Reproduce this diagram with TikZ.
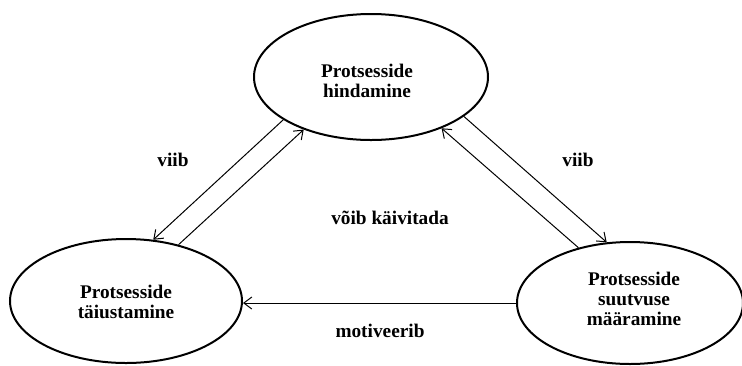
\documentclass[tikz,border=0pt]{standalone}
\usepackage{fontspec}
\setmainfont{Liberation Serif}
\usetikzlibrary{shapes.geometric,arrows.meta}
\begin{document}
\begin{tikzpicture}[x=1pt,y=-1pt,
  proc/.style={ellipse,draw,line width=2pt,inner sep=0pt},
  proctext/.style={inner sep=0pt,align=center,
    font=\fontsize{19.3}{20}\selectfont\bfseries},
  lbl/.style={inner sep=0pt,font=\fontsize{19.3}{20}\selectfont\bfseries},
  link/.style={line width=1pt,-{Straight Barb[length=8pt,width=12pt,line width=1pt]}}]
\useasboundingbox (0,0) rectangle (742,365);

% the three process stages
\node[proc,minimum width=234pt,minimum height=126pt,
  label={[proctext,xshift=-4pt,yshift=-4pt]center:Protsesside\\hindamine}] (hind) at (371,77) {};
\node[proc,minimum width=232pt,minimum height=124pt,
  label={[proctext,yshift=-1pt]center:Protsesside\\täiustamine}] (tai) at (126,301) {};
\node[proc,minimum width=226pt,minimum height=122pt,
  label={[proctext,xshift=4pt,yshift=4.5pt]center:Protsesside\\suutvuse\\määramine}] (suut) at (630,303) {};

% relations between the stages
\draw[link] (hind.206.8) -- (tai.66);
\draw[link] (tai.47.1) -- (hind.218.5);
\draw[link] (hind.337.5) -- (suut.111.2);
\draw[link] (suut.133.5) -- (hind.324.8);
\draw[link] (suut.west) -- (suut.west -| tai.east);

% relation labels
\node[lbl] (l1) at (173,160) {viib};
\node[lbl] (l2) at (578,160) {viib};
\node[lbl] (l3) at (390,218) {võib käivitada};
\node[lbl] (l4) at (380,331) {motiveerib};
\end{tikzpicture}
\end{document}
